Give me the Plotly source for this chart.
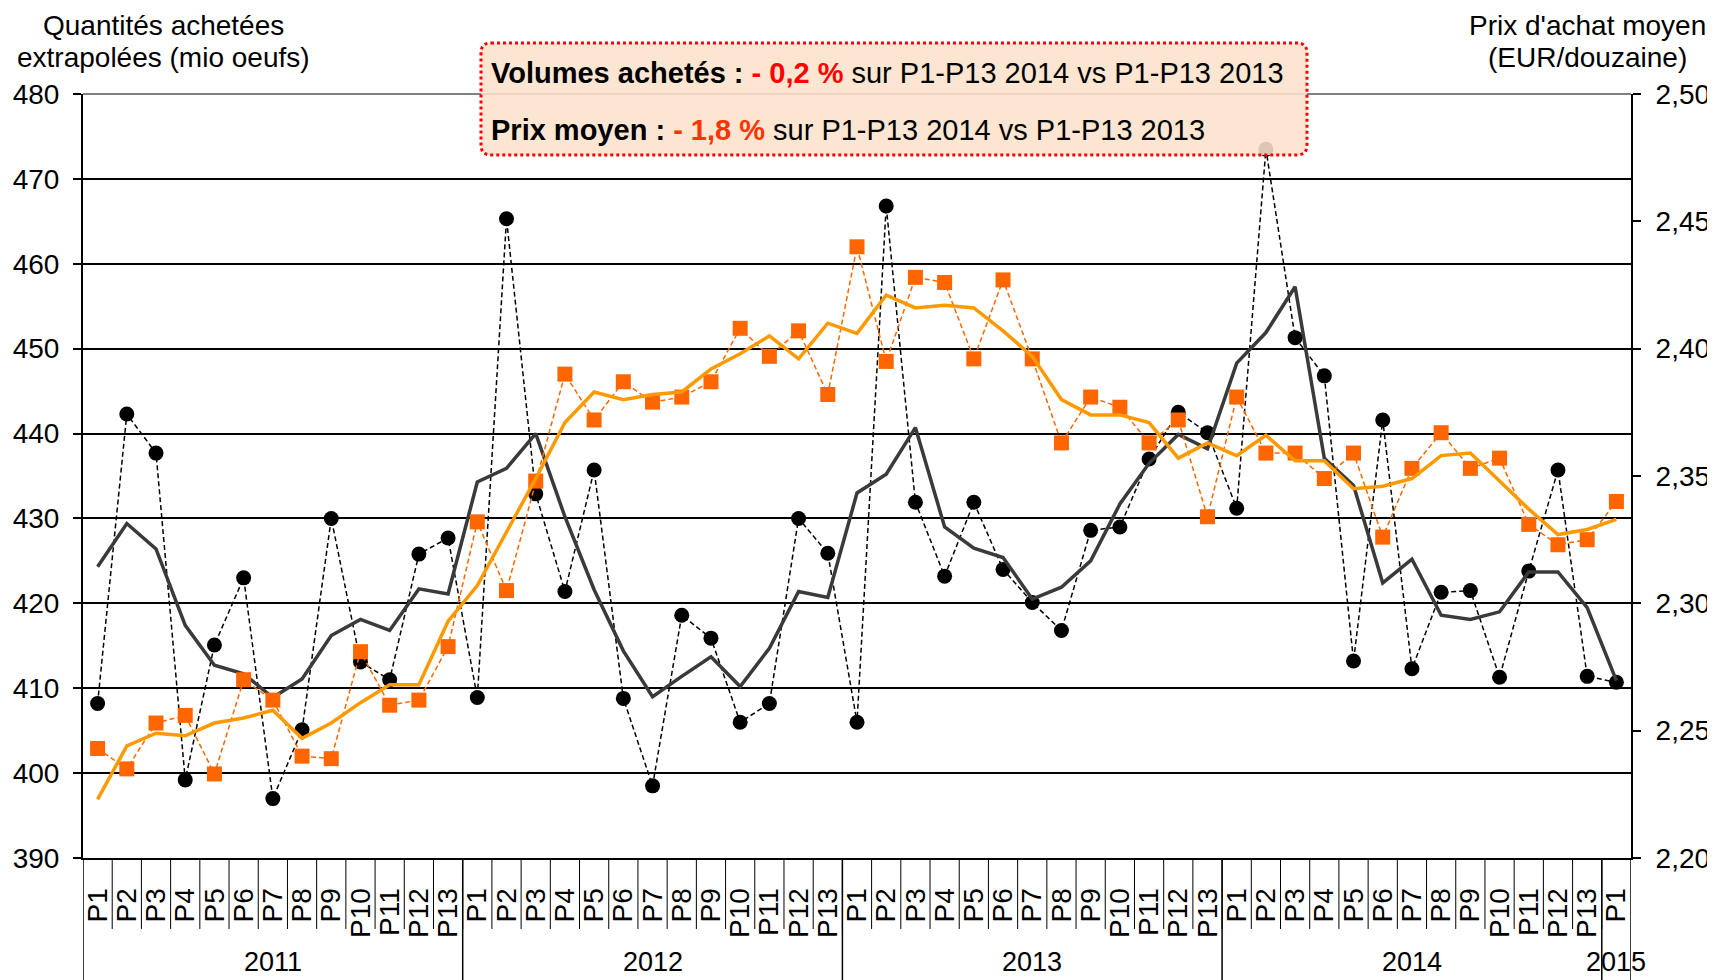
import plotly.graph_objects as go

years = ["2011", "2012", "2013", "2014", "2015"]
periods_per_year = [13, 13, 13, 13, 1]
period_labels = [f"P{p}" for n in periods_per_year for p in range(1, n + 1)]

volumes = [408.2, 442.3, 437.7, 399.2, 415.1, 423.0, 397.0, 405.1, 430.0, 413.1, 411.0, 425.8, 427.7,
           408.9, 465.3, 432.9, 421.4, 435.7, 408.8, 398.5, 418.6, 415.9, 406.0, 408.2, 430.0, 425.9,
           406.0, 466.8, 431.9, 423.2, 431.9, 424.0, 420.1, 416.8, 428.6, 429.0, 437.0, 442.5, 440.1,
           431.2, 473.5, 451.3, 446.8, 413.2, 441.6, 412.3, 421.3, 421.5, 411.3, 423.8, 435.7, 411.4,
           410.7]

volumes_ma = [424.3, 429.4, 426.4, 417.4, 412.7, 411.7, 408.9, 411.1, 416.2, 418.1, 416.8, 421.7, 421.1,
              434.3, 435.9, 440.0, 430.2, 421.6, 414.4, 409.0, 411.4, 413.7, 410.2, 414.7, 421.4, 420.7,
              433.0, 435.2, 440.7, 429.0, 426.5, 425.4, 420.5, 421.9, 425.0, 431.7, 436.5, 439.9, 438.2,
              448.3, 451.9, 457.3, 437.1, 433.9, 422.4, 425.2, 418.6, 418.1, 419.0, 423.7, 423.7, 419.5,
              410.9]

prices = [2.243, 2.235, 2.253, 2.256, 2.233, 2.270, 2.262, 2.240, 2.239, 2.281, 2.260, 2.262, 2.283,
          2.332, 2.305, 2.348, 2.390, 2.372, 2.387, 2.379, 2.381, 2.387, 2.408, 2.397, 2.407, 2.382,
          2.440, 2.395, 2.428, 2.426, 2.396, 2.427, 2.396, 2.363, 2.381, 2.377, 2.363, 2.372, 2.334,
          2.381, 2.359, 2.359, 2.349, 2.359, 2.326, 2.353, 2.367, 2.353, 2.357, 2.331, 2.323, 2.325,
          2.340]

prices_ma = [2.223, 2.244, 2.249, 2.248, 2.253, 2.255, 2.258, 2.247, 2.253, 2.261, 2.268, 2.268, 2.293,
             2.307, 2.328, 2.349, 2.371, 2.383, 2.380, 2.382, 2.383, 2.392, 2.398, 2.405, 2.396, 2.410,
             2.406, 2.421, 2.416, 2.417, 2.416, 2.407, 2.397, 2.380, 2.374, 2.374, 2.371, 2.357, 2.363,
             2.358, 2.366, 2.356, 2.356, 2.345, 2.346, 2.349, 2.358, 2.359, 2.348, 2.337, 2.327, 2.329,
             2.333]

FONT = "Liberation Sans, Arial, sans-serif"
n = len(period_labels)
xs = list(range(n))

fig = go.Figure()
fig.add_trace(go.Scatter(x=xs, y=volumes, mode="lines+markers", yaxis="y",
                         line=dict(color="black", width=1.5, dash="5px,3px"),
                         marker=dict(symbol="circle", size=15, color="black")))
fig.add_trace(go.Scatter(x=xs, y=volumes_ma, mode="lines", yaxis="y",
                         line=dict(color="#3a3a3a", width=3.5)))
fig.add_trace(go.Scatter(x=xs, y=prices, mode="lines+markers", yaxis="y2",
                         line=dict(color="#FF6600", width=1.5, dash="5px,3px"),
                         marker=dict(symbol="square", size=15, color="#FF6600")))
fig.add_trace(go.Scatter(x=xs, y=prices_ma, mode="lines", yaxis="y2",
                         line=dict(color="#FF9900", width=3.5)))

shapes = []
# top gray line at 480
shapes.append(dict(type="line", xref="paper", yref="paper", x0=0, x1=1, y0=1, y1=1,
                   line=dict(color="#808080", width=2), layer="between"))
# category separators below axis
Y_CAT = -0.0929
Y_BOT = -0.1597
for i in range(1, n):
    shapes.append(dict(type="line", xref="x", yref="paper", x0=i - 0.5, x1=i - 0.5,
                       y0=0, y1=Y_CAT, line=dict(color="black", width=1)))
# year separators
bounds = [0]
for c in periods_per_year:
    bounds.append(bounds[-1] + c)
for b in bounds:
    shapes.append(dict(type="line", xref="x", yref="paper", x0=b - 0.5, x1=b - 0.5,
                       y0=0, y1=Y_BOT, line=dict(color="black", width=1.5)))

# rounded dotted box
bx0, bx1, by0, by1 = 0.2571, 0.7907, 0.9202, 1.0668
rx, ry = 10 / 1548, 10 / 764
path = (f"M {bx0+rx},{by1} L {bx1-rx},{by1} Q {bx1},{by1} {bx1},{by1-ry} "
        f"L {bx1},{by0+ry} Q {bx1},{by0} {bx1-rx},{by0} L {bx0+rx},{by0} "
        f"Q {bx0},{by0} {bx0},{by0+ry} L {bx0},{by1-ry} Q {bx0},{by1} {bx0+rx},{by1} Z")
shapes.append(dict(type="path", xref="paper", yref="paper", path=path,
                   fillcolor="rgba(252,226,204,0.88)",
                   line=dict(color="#FF0000", width=3, dash="dot"), layer="above"))

annotations = []
# year labels
for yname, b0, c in zip(years, bounds[:-1], periods_per_year):
    annotations.append(dict(x=b0 + (c - 1) / 2, y=-0.1355, xref="x", yref="paper",
                            text=yname, showarrow=False, xanchor="center", yanchor="middle",
                            font=dict(family=FONT, size=27, color="black")))
# axis titles
TF = dict(family=FONT, size=28, color="black")
annotations += [
    dict(x=0.0517, y=1.0903, xref="paper", yref="paper", text="Quantités achetées",
         showarrow=False, xanchor="center", yanchor="middle", font=TF),
    dict(x=0.0517, y=1.0484, xref="paper", yref="paper", text="extrapolées (mio oeufs)",
         showarrow=False, xanchor="center", yanchor="middle", font=TF),
    dict(x=0.9716, y=1.0903, xref="paper", yref="paper", text="Prix d'achat moyen",
         showarrow=False, xanchor="center", yanchor="middle", font=TF),
    dict(x=0.9716, y=1.0484, xref="paper", yref="paper", text="(EUR/douzaine)",
         showarrow=False, xanchor="center", yanchor="middle", font=TF),
]
# box texts
BF = dict(family=FONT, size=29, color="black")
annotations += [
    dict(x=0.2623, y=1.0275, xref="paper", yref="paper", showarrow=False, xanchor="left", yanchor="middle",
         text="<b>Volumes achetés : </b><b><span style='color:#FF0000'>- 0,2 %</span></b> sur P1-P13 2014 vs P1-P13 2013",
         font=BF),
    dict(x=0.2623, y=0.9529, xref="paper", yref="paper", showarrow=False, xanchor="left", yanchor="middle",
         text="<b>Prix moyen : </b><b><span style='color:#FF3300'>- 1,8 %</span></b> sur P1-P13 2014 vs P1-P13 2013",
         font=BF),
]

# the page body adds an 8px offset, so the figure is sized/margined to compensate
fig.update_layout(
    width=1707, height=972,
    margin=dict(l=75, r=84, t=86, b=122, autoexpand=False),
    paper_bgcolor="white", plot_bgcolor="white",
    showlegend=False,
    separators=", ",
    font=dict(family=FONT, size=27, color="black"),
    xaxis=dict(range=[-0.5, n - 0.5], tickmode="array", tickvals=xs, ticktext=period_labels,
               tickangle=-90, ticks="outside", ticklen=17, tickcolor="rgba(0,0,0,0)", automargin=False,
               showgrid=False, zeroline=False, showline=True, linecolor="black", linewidth=2,
               tickfont=dict(family=FONT, size=28, color="black")),
    yaxis=dict(range=[390, 480], dtick=10, tick0=390, showgrid=True, gridcolor="black", gridwidth=2,
               zeroline=False, showline=True, linecolor="black", linewidth=2, automargin=False,
               ticks="outside", ticklen=8, tickwidth=2, tickcolor="black", ticklabelstandoff=8,
               tickfont=dict(family=FONT, size=28, color="black")),
    yaxis2=dict(range=[2.20, 2.50], dtick=0.05, tick0=2.20, tickformat=".2f", overlaying="y", side="right",
                showgrid=False, zeroline=False, showline=True, linecolor="black", linewidth=2, automargin=False,
                ticks="outside", ticklen=8, tickwidth=2, tickcolor="black", ticklabelstandoff=9,
                tickfont=dict(family=FONT, size=28, color="black")),
    shapes=shapes,
    annotations=annotations,
)

fig.write_html("out.html")
